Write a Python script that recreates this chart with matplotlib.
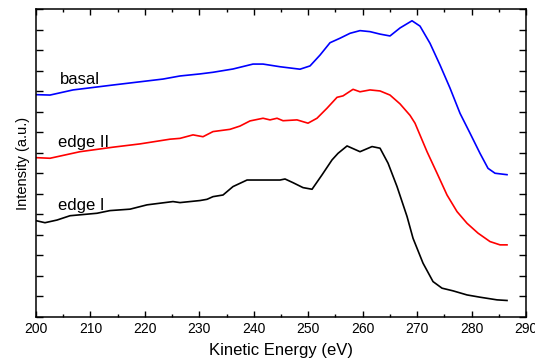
import matplotlib
matplotlib.use("Agg")
import matplotlib.pyplot as plt
from matplotlib.ticker import MultipleLocator, NullFormatter

plt.rcParams['font.family'] = ['Liberation Sans', 'DejaVu Sans']

# basal (blue)
basal_x = [200.00, 202.57, 206.80, 214.14, 223.33, 226.45, 230.12, 232.51, 236.18, 239.86,
           241.70, 244.82, 248.49, 250.33, 252.17, 254.00, 255.84, 257.68, 259.51, 261.35,
           263.19, 265.02, 266.86, 269.06, 270.53, 272.37, 274.21, 276.04, 277.88, 279.72,
           281.55, 283.02, 284.31, 286.51]
basal_y = [10.83, 10.81, 11.06, 11.30, 11.59, 11.74, 11.84, 11.92, 12.08, 12.32,
           12.32, 12.19, 12.07, 12.23, 12.76, 13.36, 13.58, 13.82, 13.95, 13.90,
           13.78, 13.69, 14.08, 14.43, 14.17, 13.33, 12.27, 11.15, 9.92, 8.95,
           7.97, 7.24, 7.00, 6.93]

# edge II (red)
edge2_x = [200.00, 202.57, 208.08, 214.14, 219.10, 224.61, 226.45, 228.84, 230.67, 232.51,
           235.63, 237.47, 239.31, 241.70, 242.98, 244.27, 245.37, 247.94, 249.96, 251.61,
           253.45, 255.29, 256.39, 258.23, 259.51, 261.35, 263.19, 265.02, 266.86, 268.70,
           269.61, 271.82, 273.66, 275.49, 277.33, 279.17, 281.19, 283.39, 285.23, 286.51]
edge2_y = [7.76, 7.73, 8.05, 8.27, 8.43, 8.66, 8.70, 8.87, 8.78, 9.03,
           9.14, 9.30, 9.55, 9.68, 9.60, 9.68, 9.56, 9.60, 9.44, 9.68,
           10.17, 10.70, 10.77, 11.09, 10.97, 11.06, 11.01, 10.81, 10.38, 9.82,
           9.44, 8.05, 7.00, 5.94, 5.13, 4.56, 4.08, 3.67, 3.51, 3.51]

# edge I (black)
edge1_x = [200.00, 201.65, 203.86, 206.25, 211.20, 213.59, 217.27, 220.39, 225.16, 226.45,
           230.12, 231.41, 232.51, 234.35, 236.18, 238.76, 242.06, 244.82, 245.74, 247.21,
           249.04, 250.70, 252.53, 254.37, 255.47, 257.13, 259.51, 261.72, 263.19, 264.66,
           266.31, 268.15, 269.25, 271.08, 272.92, 274.57, 276.59, 279.17, 281.55, 284.68,
           286.51]
edge1_y = [4.69, 4.59, 4.72, 4.93, 5.05, 5.18, 5.25, 5.46, 5.62, 5.57,
           5.67, 5.73, 5.86, 5.94, 6.35, 6.67, 6.67, 6.67, 6.72, 6.54,
           6.30, 6.22, 6.92, 7.65, 7.97, 8.33, 8.05, 8.30, 8.22, 7.49,
           6.35, 4.89, 3.83, 2.62, 1.72, 1.40, 1.27, 1.07, 0.96, 0.83,
           0.80]

labels = ["basal", "edge II", "edge I"]
label_x = [204.4, 204.0, 204.0]
label_y = [11.55, 8.5, 5.45]

fig = plt.figure(figsize=(5.35, 3.63), dpi=100)
ax = fig.add_axes([0.0673, 0.127, 0.9159, 0.848])

ax.plot(basal_x, basal_y, color='#0000ff', lw=1.2)
ax.plot(edge2_x, edge2_y, color='#ff0000', lw=1.2)
ax.plot(edge1_x, edge1_y, color='black', lw=1.2)

for t, x, y in zip(labels, label_x, label_y):
    ax.text(x, y, t, fontsize=12, color='black', va='center', ha='left')

ax.set_xlim(200, 290)
ax.set_ylim(0, 15)
ax.xaxis.set_major_locator(MultipleLocator(10))
ax.xaxis.set_minor_locator(MultipleLocator(5))
ax.yaxis.set_major_locator(MultipleLocator(1))
ax.yaxis.set_major_formatter(NullFormatter())
ax.tick_params(axis='x', which='major', direction='in', length=4, width=1, top=True,
               labelsize=10, pad=4)
ax.tick_params(axis='x', which='minor', direction='in', length=2, width=1, top=True)
ax.tick_params(axis='y', which='major', direction='in', length=5, width=1, right=True)
for s in ax.spines.values():
    s.set_linewidth(1.1)

ax.set_xlabel("Kinetic Energy (eV)", fontsize=12, labelpad=5)
ax.set_ylabel("Intensity (a.u.)", fontsize=10.5, labelpad=1)

fig.savefig("out.png", dpi=100)
